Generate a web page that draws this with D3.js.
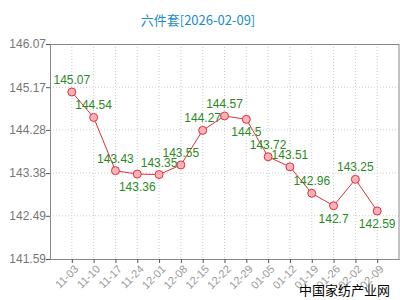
<!DOCTYPE html>
<html>
<head>
<meta charset="utf-8">
<script src="https://cdn.jsdelivr.net/npm/d3@7/dist/d3.min.js"></script>
<style>
body { margin: 0; background: #fff; }
svg { display: block; font-family: "Liberation Sans", Arial, sans-serif; }
</style>
</head>
<body>
<svg width="400" height="300"></svg>
<script>
var title = '六件套[2026-02-09]';
var dates = ['11-03', '11-10', '11-17', '11-24', '12-01', '12-08', '12-15', '12-22',
	'12-29', '01-05', '01-12', '01-19', '01-26', '02-02', '02-09'];
var prices = [145.07, 144.54, 143.43, 143.36, 143.35, 143.55, 144.27, 144.57,
	144.5, 143.72, 143.51, 142.96, 142.7, 143.25, 142.59];
var yTicks = [141.59, 142.49, 143.38, 144.28, 145.17, 146.07];

var svg = d3.select('svg'),
	margin = { top: 44, right: 1, bottom: 41, left: 50 },
	width = +svg.attr('width') - margin.left - margin.right,
	height = +svg.attr('height') - margin.top - margin.bottom;

var x = d3.scalePoint().domain(dates).range([0, width]).padding(1),
	y = d3.scaleLinear().domain([141.59, 146.07]).range([height, 0]);

svg.append('text')
	.attr('x', 198)
	.attr('y', 25)
	.attr('text-anchor', 'middle')
	.attr('fill', '#1a8cc8')
	.style('font-size', '13px')
	.style('font-family', '"Noto Sans CJK SC", sans-serif')
	.text(title);

var g = svg.append('g')
	.attr('transform', 'translate(' + margin.left + ',' + margin.top + ')');

// grid
g.selectAll('.vgrid').data(dates).enter().append('line')
	.attr('x1', function(d) { return x(d); })
	.attr('x2', function(d) { return x(d); })
	.attr('y1', 0).attr('y2', height)
	.attr('stroke', '#ccc').attr('stroke-dasharray', '1,2');
g.selectAll('.hgrid').data(yTicks.slice(1, -1)).enter().append('line')
	.attr('x1', 0).attr('x2', width)
	.attr('y1', function(d) { return y(d); })
	.attr('y2', function(d) { return y(d); })
	.attr('stroke', '#ccc').attr('stroke-dasharray', '1,2');

// frame
g.append('rect')
	.attr('x', 0.5).attr('y', 0.5)
	.attr('width', width - 0.5).attr('height', height)
	.attr('fill', 'none').attr('stroke', '#888');

var yAxis = g.append('g')
	.call(d3.axisLeft(y).tickValues(yTicks).tickSize(4).tickFormat(d3.format('.2f')));
yAxis.select('.domain').attr('stroke', '#888');
yAxis.selectAll('line').attr('stroke', '#555');
yAxis.selectAll('text').attr('fill', '#777').attr('x', -4).style('font-size', '12px')
	.style('font-family', '"Liberation Sans", Arial, sans-serif');

var xAxis = g.append('g')
	.attr('transform', 'translate(0,' + height + ')')
	.call(d3.axisBottom(x).tickSize(4).tickSizeOuter(0));
xAxis.select('.domain').attr('stroke', '#888');
xAxis.selectAll('line').attr('stroke', '#555');
xAxis.selectAll('text')
	.attr('fill', '#999')
	.attr('text-anchor', 'end')
	.attr('dy', '0.35em')
	.attr('transform', 'translate(4,8) rotate(-45)')
	.attr('y', 0).attr('x', 0)
	.style('font-size', '11px')
	.style('font-family', '"Liberation Sans", Arial, sans-serif');

var line = d3.line()
	.x(function(d, i) { return x(dates[i]); })
	.y(function(d) { return y(d); });

g.append('path')
	.datum(prices)
	.attr('fill', 'none')
	.attr('stroke', '#e0303a')
	.attr('stroke-width', 1)
	.attr('d', line);

g.selectAll('.dot').data(prices).enter().append('circle')
	.attr('cx', function(d, i) { return x(dates[i]); })
	.attr('cy', function(d) { return y(d); })
	.attr('r', 4)
	.attr('fill', '#ffb3b8')
	.attr('stroke', '#e0303a');

// label position: below for close neighbours or local lows
var below = [];
prices.forEach(function(v, i) {
	var b = false;
	if (i > 0 && !below[i - 1]) {
		var prev = prices[i - 1], next = prices[i + 1];
		if (Math.abs(v - prev) < 0.1) b = true;
		else if (v < prev && (next === undefined || v < next)) b = true;
	}
	below.push(b);
});

g.selectAll('.lbl').data(prices).enter().append('text')
	.attr('x', function(d, i) { return x(dates[i]); })
	.attr('y', function(d, i) { return y(d) + (below[i] ? 17 : -8); })
	.attr('text-anchor', 'middle')
	.attr('fill', '#2b8a1e')
	.style('font-size', '12px')
	.text(function(d) { return d; });

svg.append('text')
	.attr('x', 390)
	.attr('y', 295)
	.attr('text-anchor', 'end')
	.attr('fill', '#000')
	.style('font-size', '13px')
	.style('font-family', '"Noto Sans CJK SC", sans-serif')
	.text('中国家纺产业网');
</script>
</body>
</html>
